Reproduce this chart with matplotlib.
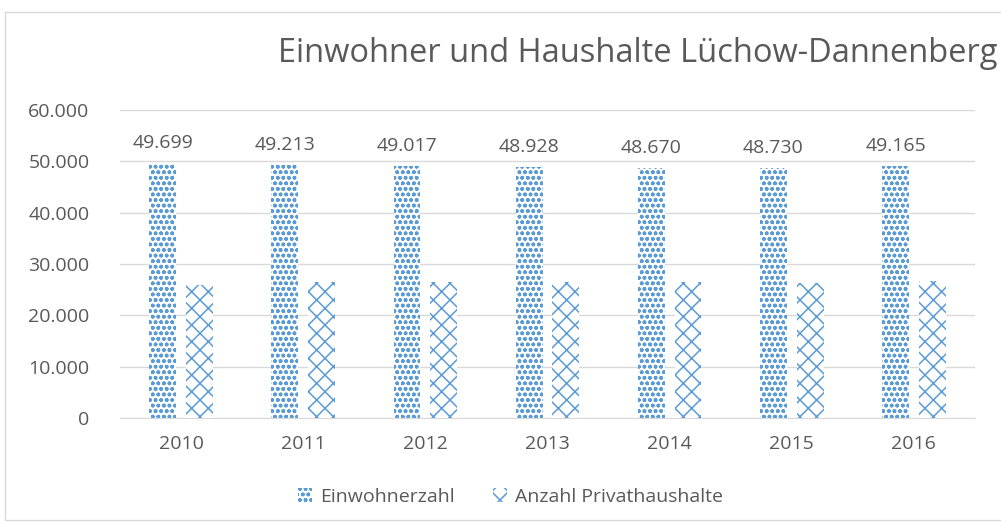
import matplotlib
matplotlib.use('Agg')
import matplotlib.pyplot as plt
from matplotlib.patches import Rectangle
from matplotlib.ticker import FuncFormatter
import numpy as np

# data
years = ['2010', '2011', '2012', '2013', '2014', '2015', '2016']
einwohner = [49699, 49213, 49017, 48928, 48670, 48730, 49165]
haushalte = [26000, 26400, 26500, 26500, 26400, 26300, 26700]

blue = '#5B9BD5'
grey = '#595959'

plt.rcParams['font.family'] = ['Open Sans', 'DejaVu Sans']
plt.rcParams['hatch.color'] = blue
plt.rcParams['hatch.linewidth'] = 1.1

def fmt(v, pos=None):
    return '{:,.0f}'.format(v).replace(',', '.')

fig = plt.figure(figsize=(10.01, 5.32), dpi=100)
ax = fig.add_axes([120/1001, 1-418/532, 855/1001, 308/532])

# chart border
fig.patches.append(Rectangle((5/1001, 1-520/532), 1.1, 508/532, transform=fig.transFigure,
                             fill=False, edgecolor='#D9D9D9', linewidth=1))

x = np.arange(len(years))
w = 0.22
b1 = ax.bar(x - 0.15, einwohner, w, facecolor='white', edgecolor=blue, linewidth=0,
            hatch='ooo', label='Einwohnerzahl')
b2 = ax.bar(x + 0.15, haushalte, w, facecolor='white', edgecolor=blue, linewidth=0,
            hatch='xx', label='Anzahl Privathaushalte')

#labels
for xi, v in zip(x, einwohner):
    ax.annotate(fmt(v), (xi - 0.15, v), xytext=(0, 8), textcoords='offset points',
                ha='center', va='bottom', fontsize=14, color=grey)

ax.set_xlim(-0.5, len(years) - 0.5)
ax.set_ylim(0, 60000)
ax.set_yticks(np.arange(0, 60001, 10000))
ax.yaxis.set_major_formatter(FuncFormatter(fmt))
ax.set_xticks(x)
ax.set_xticklabels(years)
ax.tick_params(axis='x', length=0, labelsize=14, colors=grey, pad=12)
ax.tick_params(axis='y', length=0, labelsize=14, colors=grey, pad=22)
ax.grid(axis='y', color='#D9D9D9', linewidth=1)
ax.set_axisbelow(True)
for s in ['top', 'right', 'left']:
    ax.spines[s].set_visible(False)
ax.spines['bottom'].set_color('#D9D9D9')

fig.text(997/1001, 1-54/532, 'Einwohner und Haushalte Lüchow-Dannenberg', ha='right', va='center',
         fontsize=23.5, color=grey)

fig.legend(loc='center', bbox_to_anchor=(0.51, 1-497/532), ncol=2, frameon=False,
           fontsize=14, labelcolor=grey, handlelength=0.7, handleheight=0.7,
           columnspacing=2.0, handletextpad=0.4)

fig.savefig('out.png', dpi=100)
